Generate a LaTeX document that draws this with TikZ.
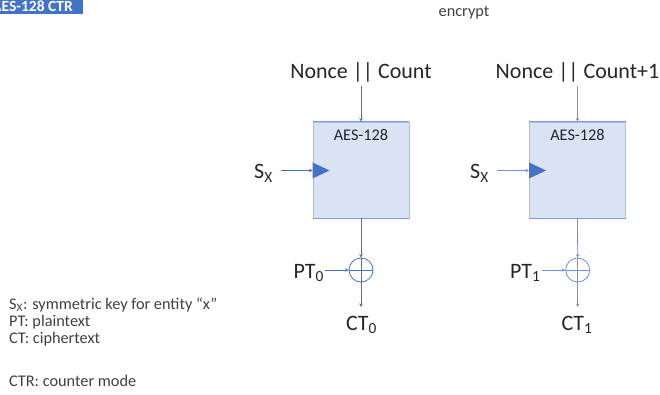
\documentclass[tikz,border=0pt]{standalone}
\usepackage{fontspec}
\setmainfont{Carlito}
\usetikzlibrary{arrows.meta}
\definecolor{lineblue}{HTML}{4472C4}
\definecolor{lineblueb}{HTML}{6F93D4}
\definecolor{boxfill}{HTML}{DAE3F3}
\definecolor{boxedge}{HTML}{A9BEE6}
\definecolor{boxrule}{HTML}{7E9BD3}
\definecolor{banner}{HTML}{4472C4}
\definecolor{ink}{HTML}{262626}
\definecolor{note}{HTML}{404040}
\tikzset{
  big/.style={font=\fontsize{22}{26}\selectfont, text=ink, inner sep=0pt},
  small/.style={font=\fontsize{16.3}{19}\selectfont, text=note, inner sep=0pt},
  aeslabel/.style={font=\fontsize{16.3}{19}\selectfont, text=ink, inner sep=0pt, anchor=base},
  aesbox/.style={draw=boxedge, fill=boxfill, line width=0.9pt, minimum width=96pt, minimum height=96pt, inner sep=0pt},
  xorc/.style={circle, draw, line width=0.8pt, minimum size=24pt, inner sep=0pt},
  flow/.style={line width=0.8pt, -{Stealth[length=3.5pt,width=3.5pt]}},
  clk/.style={fill=lineblue, draw=none}
}
\begin{document}
\begin{tikzpicture}[x=1pt,y=-1pt]
\useasboundingbox (0,0) rectangle (660,395);

% title banner
\fill[banner] (-40,-10) rectangle (83,14);
\node[anchor=base east, inner sep=0pt, text=white, font=\bfseries\fontsize{15.5}{18}\selectfont] (title) at (73,12) {AES-128 CTR};
\node[small, anchor=base] (enc) at (464,17) {encrypt};

% first block
\node[big, anchor=base] (n0) at (361,79) {Nonce || Count};
\node[aesbox] (b0) at (361,170) {};
\draw[boxrule, line width=1pt] (b0.north west) -- (b0.north east) (b0.south west) -- (b0.south east);
\node[aeslabel] (a0) at (361,140.7) {AES-128};
\fill[clk] (b0.west |- 0,162.5) -- ++(17,8) -- ++(-17,8) -- cycle;
\node[big, anchor=base east] (s0) at (273,179) {S\textsubscript{X}};
\coordinate (s0e) at (281,170.5);
\node[xorc, draw=lineblue] (x0) at (361,270) {};
\node[big, anchor=base east] (p0) at (324,278) {PT\textsubscript{0}};
\coordinate (p0e) at (325,270);
\node[big, anchor=base] (c0) at (361.5,330) {CT\textsubscript{0}};
\coordinate (c0e) at (361,307);

\draw[flow, lineblue] (n0.south) ++(0,3) -- (b0.north);
\draw[flow, lineblue] (s0e) -- (b0.west |- s0e);
\draw[flow, lineblue] (b0.south) -- (x0.north);
\draw[flow, lineblue] (p0e) -- (x0.west);
\draw[lineblue, line width=0.8pt] (x0.west) -- (x0.east);
\draw[flow, lineblue] (x0.north) -- (c0e);

% second block
\node[big, anchor=base] (n1) at (577.5,79) {Nonce || Count+1};
\node[aesbox] (b1) at (577.5,170) {};
\draw[boxrule, line width=1pt] (b1.north west) -- (b1.north east) (b1.south west) -- (b1.south east);
\node[aeslabel] (a1) at (577.5,140.7) {AES-128};
\fill[clk] (b1.west |- 0,162.5) -- ++(17,8) -- ++(-17,8) -- cycle;
\node[big, anchor=base east] (s1) at (489,179) {S\textsubscript{X}};
\coordinate (s1e) at (497,170.5);
\node[xorc, draw=lineblueb] (x1) at (577.7,270) {};
\node[big, anchor=base east] (p1) at (540.5,278) {PT\textsubscript{1}};
\coordinate (p1e) at (541.7,270);
\node[big, anchor=base] (c1) at (577,330) {CT\textsubscript{1}};
\coordinate (c1e) at (577.7,307);

\draw[flow, lineblueb] (n1.south -| b1.north) ++(0,3) -- (b1.north);
\draw[flow, lineblueb] (s1e) -- (b1.west |- s1e);
\draw[flow, lineblueb] (b1.south) -- (x1.north);
\draw[flow, lineblueb] (p1e) -- (x1.west);
\draw[lineblueb, line width=0.8pt] (x1.west) -- (x1.east);
\draw[flow, lineblueb] (x1.north) -- (c1e);

% legend
\node[small, anchor=base west] (l1) at (9,309.3) {S\textsubscript{X}: symmetric key for entity “x”};
\node[small, anchor=base west] (l2) at (9,326.7) {PT: plaintext};
\node[small, anchor=base west] (l3) at (9,343.5) {CT: ciphertext};
\node[small, anchor=base west] (l4) at (9,386.5) {CTR: counter mode};
\end{tikzpicture}
\end{document}
